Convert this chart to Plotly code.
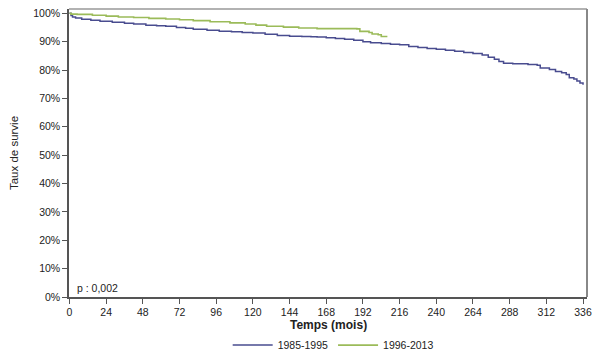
import plotly.graph_objects as go

# Kaplan-Meier style survival curves (months, survival %)
t_1985 = [0, 1, 2, 4, 8, 14, 20, 28, 36, 42, 50, 57, 63, 70, 76, 81, 90, 98, 106, 113,
          120, 128, 136, 144, 152, 158, 162, 168, 174, 180, 186, 192, 197, 204, 210, 216,
          222, 228, 234, 240, 246, 252, 258, 264, 270, 274, 278, 281, 284, 290, 300, 306,
          308, 314, 318, 322, 325, 327, 330, 332, 334, 336]
s_1985 = [100, 99.2, 98.7, 98.3, 97.9, 97.5, 97.2, 96.8, 96.5, 96.2, 95.8, 95.6, 95.4, 95.0,
          94.7, 94.4, 94.0, 93.7, 93.5, 93.2, 93.0, 92.6, 92.2, 91.9, 91.8, 91.7, 91.6, 91.4,
          91.1, 90.8, 90.5, 90.0, 89.6, 89.3, 89.1, 88.9, 88.3, 87.9, 87.6, 87.3, 87.0, 86.6,
          86.2, 85.8, 85.3, 84.5, 83.8, 83.0, 82.4, 82.2, 81.9, 81.7, 80.7, 80.2, 79.5, 79.0,
          78.4, 77.3, 76.8, 76.1, 75.4, 74.8]

t_1996 = [0, 1, 5, 15, 24, 32, 42, 52, 63, 72, 81, 92, 105, 115, 122, 129, 140, 150, 162,
          175, 188, 190, 196, 198, 202, 204, 208]
s_1996 = [100, 99.7, 99.6, 99.3, 99.0, 98.7, 98.5, 98.2, 98.0, 97.7, 97.4, 97.0, 96.6, 96.2,
          95.8, 95.4, 95.1, 94.8, 94.6, 94.6, 94.5, 93.6, 93.2, 92.7, 92.4, 91.8, 91.8]

x_ticks = list(range(0, 337, 24))
y_ticks = list(range(0, 101, 10))
y_labels = [f"{v}%" for v in y_ticks]

fig = go.Figure()
fig.add_trace(go.Scatter(x=t_1985, y=s_1985, mode="lines", name="1985-1995",
                         line=dict(color="#494C8F", width=1.5, shape="hv")))
fig.add_trace(go.Scatter(x=t_1996, y=s_1996, mode="lines", name="1996-2013",
                         line=dict(color="#9BBB59", width=1.6, shape="hv")))

font = "Liberation Sans, Arial, sans-serif"
fig.update_layout(
    width=600, height=359,
    margin=dict(l=69, r=13, t=9, b=62, autoexpand=False),
    paper_bgcolor="white", plot_bgcolor="white",
    font=dict(family=font, size=10.5, color="#222"),
    showlegend=True,
    legend=dict(orientation="h", x=0.51, xanchor="center", y=-0.167, yanchor="middle",
                font=dict(size=10.5), itemwidth=40, tracegroupgap=0),
    xaxis=dict(range=[-0.3, 338.6], tickvals=x_ticks, ticks="outside", ticklen=5,
               tickcolor="#555", showgrid=False, zeroline=False, automargin=False,
               showline=True, linecolor="#555", linewidth=1.5, mirror=False),
    yaxis=dict(range=[0, 101.5], tickvals=y_ticks, ticktext=y_labels, ticks="outside",
               ticklen=5, tickcolor="#555", showgrid=False, zeroline=False, automargin=False,
               showline=True, linecolor="#555", linewidth=1.5, mirror=False),
)
# top/right frame
fig.add_shape(type="line", xref="paper", yref="paper", x0=0, x1=1, y0=1, y1=1,
              line=dict(color="#999", width=1.5))
fig.add_shape(type="line", xref="paper", yref="paper", x0=1, x1=1, y0=0, y1=1,
              line=dict(color="#888", width=2))
fig.add_annotation(text="p : 0,002", xref="paper", yref="paper", x=0.012, y=0.005,
                   xanchor="left", yanchor="bottom", showarrow=False, font=dict(size=10.5))
fig.add_annotation(text="<b>Temps (mois)</b>", xref="paper", yref="paper", x=0.5, y=-0.097,
                   xanchor="center", yanchor="middle", showarrow=False, font=dict(size=12))
fig.add_annotation(text="Taux de survie", xref="paper", yref="paper", x=-0.106, y=0.5,
                   xanchor="center", yanchor="middle", textangle=-90, showarrow=False,
                   font=dict(size=11.5))

fig.write_html("out.html", config={"displayModeBar": False},
               post_script="document.body.style.margin='0';document.body.style.overflow='hidden';")
